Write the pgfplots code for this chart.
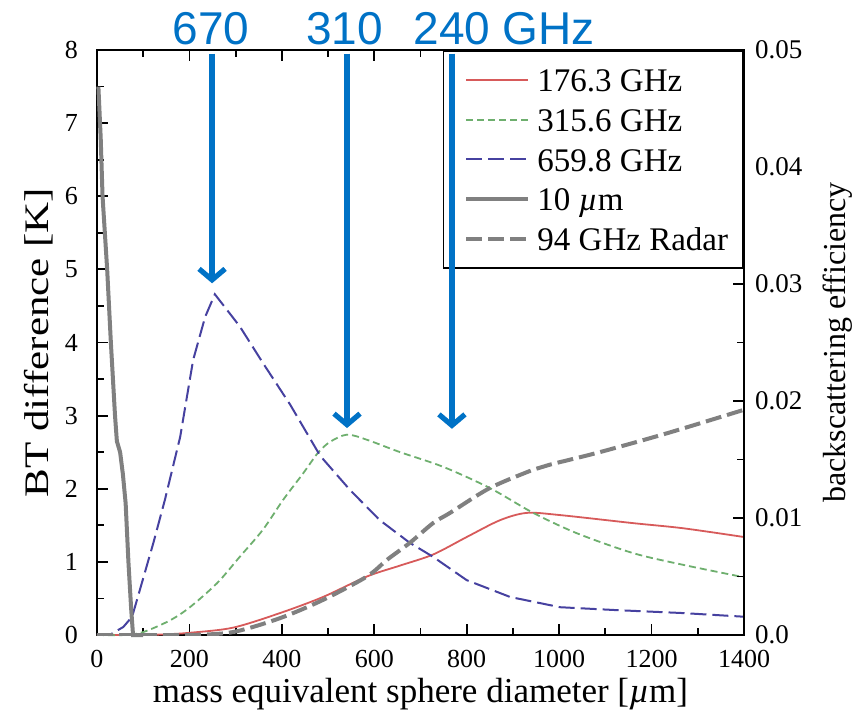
\documentclass[border=0pt]{standalone}
\usepackage{fontspec}
\setmainfont{Liberation Serif}
\newfontfamily\arialfont{Liberation Sans}
\usepackage{pgfplots}
\pgfplotsset{compat=1.18}
\usetikzlibrary{arrows.meta}
\definecolor{ablue}{RGB}{0,114,198}
\definecolor{cred}{RGB}{215,90,90}
\definecolor{cgreen}{RGB}{110,175,110}
\definecolor{cblue}{RGB}{70,65,160}
\definecolor{cgray}{RGB}{128,128,128}
\pgfplotsset{
  redstyle/.style={cred, line width=0.9pt},
  greenstyle/.style={cgreen, line width=0.9pt, dash pattern=on 3.5pt off 2pt},
  bluestyle/.style={cblue, line width=1pt, dash pattern=on 8pt off 3pt},
  graystyle/.style={cgray, line width=2pt},
  radarstyle/.style={cgray, line width=2pt, dash pattern=on 8pt off 3pt},
}
\begin{document}
\begin{tikzpicture}
\useasboundingbox (-48.5pt,-39.5pt) rectangle (383pt,317.5pt);
\begin{axis}[
  at={(0,0)}, anchor=south west,
  scale only axis, width=323.5pt, height=292.5pt,
  xmin=0, xmax=1400, ymin=0, ymax=8,
  xtick={0,200,...,1400}, ytick={0,1,...,8},
  minor x tick num=1, minor y tick num=1,
  ytick pos=left, xtick pos=both,
  tick align=inside,
  major tick length=5.5pt, minor tick length=3.5pt,
  axis line style={line width=1pt},
  every tick/.style={black, line width=0.9pt},
  /pgf/number format/assume math mode=true,
  /pgf/number format/1000 sep={},
  tick label style={font=\fontsize{13}{13}\selectfont},
  xticklabel style={yshift=-4pt},
  yticklabel style={xshift=-6pt},
  xlabel={mass equivalent sphere diameter [{\itshape µ}m]},
  ylabel={\scalebox{1}[0.8]{BT difference [K]}},
  every axis x label/.style={at={(axis description cs:0.5,-0.101)}, anchor=center, font=\fontsize{17.5}{17.5}\selectfont},
  every axis y label/.style={at={(axis description cs:-0.09,0.5)}, anchor=center, rotate=90, font=\fontsize{21.5}{21.5}\selectfont},
  clip=false,
]
\addplot[redstyle, smooth] coordinates {
(0,0) (100,0) (150,0.01) (200,0.03) (294,0.10) (396,0.30) (489,0.52) (584,0.80) (656,0.95) (727,1.10) (800,1.34) (872,1.57) (930,1.67) (1002,1.64) (1160,1.53) (1268,1.46) (1400,1.34)};
\addplot[greenstyle, smooth] coordinates {
(0,0) (60,0) (100,0.04) (158,0.20) (201,0.38) (260,0.71) (309,1.07) (359,1.44) (403,1.85) (446,2.21) (478,2.49) (504,2.64) (541,2.74) (584,2.67) (656,2.50) (749,2.30) (850,2.01) (944,1.67) (1039,1.39) (1160,1.12) (1268,0.96) (1400,0.79)};
\addplot[bluestyle] coordinates {
(0,0) (30,0.01) (57,0.11) (76,0.25) (97,0.71) (122,1.26) (147,1.85) (180,2.71) (208,3.76) (234,4.35) (255,4.66) (309,4.22) (359,3.72) (418,3.15) (483,2.45) (548,1.98) (612,1.57) (677,1.26) (727,1.07) (800,0.75) (894,0.52) (1002,0.38) (1125,0.34) (1268,0.30) (1400,0.25)};
\addplot[graystyle] coordinates {
(3,7.5) (8,6.8) (12,6.0) (22,5.0) (30,4.0) (39,3.0) (43,2.65) (50,2.5) (56,2.2) (62,1.8) (68,1.0) (74,0.35) (78,0) (100,0)};
\coordinate (a1s) at (axis cs:249,7.95);
\coordinate (a1e) at (axis cs:249,4.81);
\coordinate (a2s) at (axis cs:541,7.95);
\coordinate (a2e) at (axis cs:541,2.83);
\coordinate (a3s) at (axis cs:768,7.95);
\coordinate (a3e) at (axis cs:768,2.82);
\coordinate (t1) at (axis cs:247,8.07);
\coordinate (t2) at (axis cs:536,8.07);
\coordinate (t3) at (axis cs:684,8.07);
\end{axis}
\begin{axis}[
  at={(0,0)}, anchor=south west,
  scale only axis, width=323.5pt, height=292.5pt,
  xmin=0, xmax=1400, ymin=0, ymax=0.05,
  axis x line=none, axis y line*=right,
  scaled y ticks=false,
  ytick={0,0.01,0.02,0.03,0.04,0.05},
  yticklabels={0.0,0.01,0.02,0.03,0.04,0.05},
  minor y tick num=1,
  tick align=inside,
  major tick length=5.5pt, minor tick length=3.5pt,
  axis line style={line width=1pt},
  every tick/.style={black, line width=0.9pt},
  tick label style={font=\fontsize{13.5}{13.5}\selectfont},
  yticklabel style={xshift=2pt},
  ylabel={backscattering efficiency},
  every axis y label/.style={at={(axis description cs:1.1453,0.5)}, anchor=center, rotate=90, font=\fontsize{16}{16}\selectfont},
  legend style={at={(rel axis cs:1,1)}, anchor=north east, draw=black, line width=0.9pt, fill=white,
    font=\fontsize{16.5}{16.5}\selectfont, inner xsep=4pt, inner ysep=4.5pt,
    nodes={inner xsep=3.5pt, inner ysep=1.9pt, text height=13.9pt, text depth=2.2pt}},
  legend cell align=left,
  legend image code/.code={\path (-6.5pt,0pt); \draw[#1] (0pt,0pt) -- (31pt,0pt);},
]
\addlegendimage{redstyle}
\addlegendimage{greenstyle}
\addlegendimage{bluestyle}
\addlegendimage{graystyle}
\addplot[radarstyle, smooth] coordinates {
(0,0) (100,0) (200,0) (294,0.00025) (396,0.00144) (489,0.0030) (584,0.0050) (628,0.00644) (677,0.00788) (727,0.00956) (764,0.01044) (850,0.01256) (944,0.01413) (980,0.01456) (1088,0.01563) (1234,0.01725) (1400,0.01925)};
\legend{176.3 GHz, 315.6 GHz, 659.8 GHz, 10 {\itshape µ}m, 94 GHz Radar}
\end{axis}
\begin{scope}[ablue, line width=2.6pt]
\draw[-{Straight Barb[length=5.5pt,width=13pt]}] (a1s) -- (a1e);
\draw[-{Straight Barb[length=5.5pt,width=13pt]}] (a2s) -- (a2e);
\draw[-{Straight Barb[length=5.5pt,width=13pt]}] (a3s) -- (a3e);
\end{scope}
\node[ablue, anchor=base, inner sep=0pt, font=\arialfont\fontsize{23}{23}\selectfont] at (t1) {670};
\node[ablue, anchor=base, inner sep=0pt, font=\arialfont\fontsize{23}{23}\selectfont] at (t2) {310};
\node[ablue, anchor=base west, inner sep=0pt, font=\arialfont\fontsize{23}{23}\selectfont] at (t3) {240 GHz};
\end{tikzpicture}
\end{document}
